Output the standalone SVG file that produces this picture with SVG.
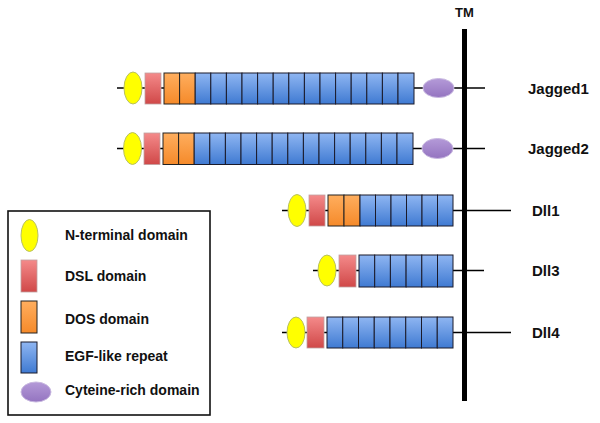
<svg xmlns="http://www.w3.org/2000/svg" width="600" height="423" viewBox="0 0 600 423">
<defs>
<linearGradient id="gRed" x1="0" y1="0" x2="0" y2="1"><stop offset="0" stop-color="#f48a8a"/><stop offset="1" stop-color="#d04848"/></linearGradient>
<linearGradient id="gOr" x1="0" y1="0" x2="0" y2="1"><stop offset="0" stop-color="#ffae5e"/><stop offset="1" stop-color="#f58a2a"/></linearGradient>
<linearGradient id="gBlue" x1="0" y1="0" x2="0" y2="1"><stop offset="0" stop-color="#8fb6f2"/><stop offset="1" stop-color="#3f7ad2"/></linearGradient>
<linearGradient id="gPur" x1="0" y1="0" x2="0" y2="1"><stop offset="0" stop-color="#b49ad8"/><stop offset="1" stop-color="#9474c0"/></linearGradient>
<style>
.ln{stroke:#000;stroke-width:1.5;fill:none}
.tm{stroke:#000;stroke-width:5;fill:none}
.nt{fill:#ffff00;stroke:#b8c060;stroke-width:1}
.dsl{fill:url(#gRed);stroke:#c0a0a0;stroke-width:0.8}
.dos{fill:url(#gOr);stroke:#222;stroke-width:1}
.egf{fill:url(#gBlue);stroke:#1a1a2a;stroke-width:1}
.cr{fill:url(#gPur);stroke:#c8b8e0;stroke-width:1}
.lab{font-family:"Liberation Sans",Arial,sans-serif;font-weight:bold;font-size:15px;fill:#111}
.leg{font-family:"Liberation Sans",Arial,sans-serif;font-weight:bold;font-size:14px;fill:#111}
</style>
</defs>
<rect width="600" height="423" fill="#fff"/>
<g id="connectors">
<line class="ln" x1="117" y1="88" x2="485" y2="88"/>
<line class="ln" x1="117" y1="148.5" x2="485" y2="148.5"/>
<line class="ln" x1="282" y1="210.5" x2="511" y2="210.5"/>
<line class="ln" x1="313" y1="270.5" x2="484" y2="270.5"/>
<line class="ln" x1="282" y1="332.5" x2="511" y2="332.5"/>
</g>
<g id="tm">
<line class="tm" x1="464.5" y1="29" x2="464.5" y2="401"/>
<text class="lab" x="464.5" y="17" text-anchor="middle" font-size="13" style="font-size:13px">TM</text>
</g>
<g id="jagged1">
<ellipse class="nt" cx="133" cy="88" rx="9" ry="16"/>
<rect class="dsl" x="145" y="73" width="16" height="31"/>
<rect class="dos" x="164" y="73" width="15.6" height="31"/>
<rect class="dos" x="179.6" y="73" width="15.6" height="31"/>
<g class="egf">
<rect x="195.2" y="73" width="15.6" height="31"/><rect x="210.8" y="73" width="15.6" height="31"/><rect x="226.4" y="73" width="15.6" height="31"/><rect x="242" y="73" width="15.6" height="31"/><rect x="257.6" y="73" width="15.6" height="31"/><rect x="273.2" y="73" width="15.6" height="31"/><rect x="288.8" y="73" width="15.6" height="31"/><rect x="304.4" y="73" width="15.6" height="31"/><rect x="320" y="73" width="15.6" height="31"/><rect x="335.6" y="73" width="15.6" height="31"/><rect x="351.2" y="73" width="15.6" height="31"/><rect x="366.8" y="73" width="15.6" height="31"/><rect x="382.4" y="73" width="15.6" height="31"/><rect x="398" y="73" width="16" height="31"/>
</g>
<ellipse class="cr" cx="438.5" cy="88" rx="15.5" ry="9.5"/>
<text class="lab" x="528" y="94">Jagged1</text>
</g>
<g id="jagged2">
<ellipse class="nt" cx="132.5" cy="148.5" rx="9" ry="16"/>
<rect class="dsl" x="144" y="133" width="16" height="31.5"/>
<rect class="dos" x="163" y="133" width="15.6" height="31.5"/>
<rect class="dos" x="178.6" y="133" width="15.6" height="31.5"/>
<g class="egf">
<rect x="194.2" y="133" width="15.6" height="31.5"/><rect x="209.8" y="133" width="15.6" height="31.5"/><rect x="225.4" y="133" width="15.6" height="31.5"/><rect x="241" y="133" width="15.6" height="31.5"/><rect x="256.6" y="133" width="15.6" height="31.5"/><rect x="272.2" y="133" width="15.6" height="31.5"/><rect x="287.8" y="133" width="15.6" height="31.5"/><rect x="303.4" y="133" width="15.6" height="31.5"/><rect x="319" y="133" width="15.6" height="31.5"/><rect x="334.6" y="133" width="15.6" height="31.5"/><rect x="350.2" y="133" width="15.6" height="31.5"/><rect x="365.8" y="133" width="15.6" height="31.5"/><rect x="381.4" y="133" width="15.6" height="31.5"/><rect x="397" y="133" width="16" height="31.5"/>
</g>
<ellipse class="cr" cx="437.5" cy="148.5" rx="15.5" ry="10"/>
<text class="lab" x="528" y="154">Jagged2</text>
</g>
<g id="dll1">
<ellipse class="nt" cx="297" cy="210.5" rx="9" ry="16"/>
<rect class="dsl" x="309" y="195" width="16" height="31"/>
<rect class="dos" x="328" y="195" width="16" height="31"/>
<rect class="dos" x="344" y="195" width="16" height="31"/>
<g class="egf">
<rect x="360" y="195" width="15.5" height="31"/><rect x="375.5" y="195" width="15.5" height="31"/><rect x="391" y="195" width="15.5" height="31"/><rect x="406.5" y="195" width="15.5" height="31"/><rect x="422" y="195" width="15.5" height="31"/><rect x="437.5" y="195" width="15.5" height="31"/>
</g>
<text class="lab" x="532" y="216">Dll1</text>
</g>
<g id="dll3">
<ellipse class="nt" cx="327" cy="270.5" rx="9" ry="15.5"/>
<rect class="dsl" x="339" y="255" width="17" height="32"/>
<g class="egf">
<rect x="359" y="255" width="15.7" height="32"/><rect x="374.7" y="255" width="15.7" height="32"/><rect x="390.4" y="255" width="15.7" height="32"/><rect x="406.1" y="255" width="15.7" height="32"/><rect x="421.8" y="255" width="15.7" height="32"/><rect x="437.5" y="255" width="15.5" height="32"/>
</g>
<text class="lab" x="532" y="276">Dll3</text>
</g>
<g id="dll4">
<ellipse class="nt" cx="296" cy="332.5" rx="9" ry="15.5"/>
<rect class="dsl" x="307" y="317" width="17" height="31"/>
<g class="egf">
<rect x="327" y="317" width="15.75" height="31"/><rect x="342.75" y="317" width="15.75" height="31"/><rect x="358.5" y="317" width="15.75" height="31"/><rect x="374.25" y="317" width="15.75" height="31"/><rect x="390" y="317" width="15.75" height="31"/><rect x="405.75" y="317" width="15.75" height="31"/><rect x="421.5" y="317" width="15.75" height="31"/><rect x="437.25" y="317" width="15.75" height="31"/>
</g>
<text class="lab" x="532" y="338">Dll4</text>
</g>
<g id="legend">
<rect x="8" y="211" width="202" height="204" fill="#fff" stroke="#111" stroke-width="1.6"/>
<ellipse class="nt" cx="29.5" cy="235.5" rx="8.5" ry="16"/>
<text class="leg" x="65" y="240">N-terminal domain</text>
<rect class="dsl" x="21" y="260" width="16" height="32"/>
<text class="leg" x="65" y="281">DSL domain</text>
<rect class="dos" x="21" y="301" width="16" height="32"/>
<text class="leg" x="65" y="324">DOS domain</text>
<rect class="egf" x="21" y="342" width="16" height="31"/>
<text class="leg" x="65" y="361">EGF-like repeat</text>
<ellipse class="cr" cx="36" cy="392" rx="15" ry="10"/>
<text class="leg" x="65" y="395">Cyteine-rich domain</text>
</g>
</svg>
